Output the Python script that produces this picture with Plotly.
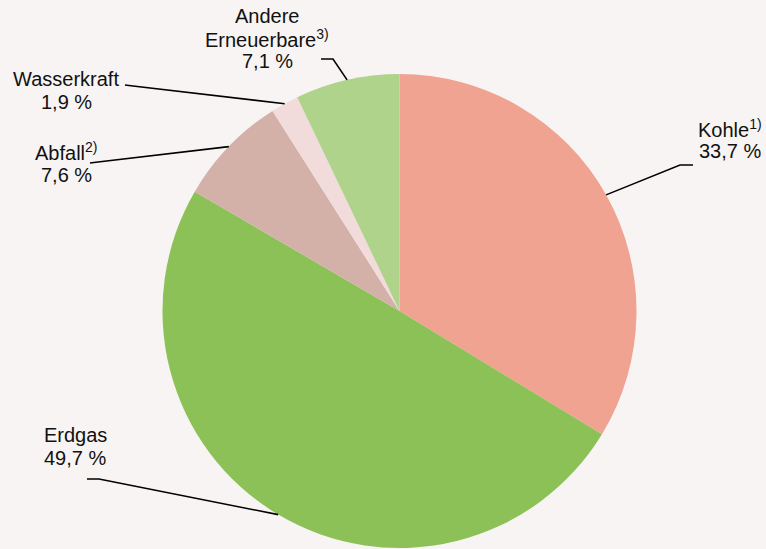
import math
import plotly.graph_objects as go

# ---- data ----
labels = ["Kohle", "Erdgas", "Abfall", "Wasserkraft", "Andere Erneuerbare"]
values = [33.7, 49.7, 7.6, 1.9, 7.1]
value_text = ["33,7 %", "49,7 %", "7,6 %", "1,9 %", "7,1 %"]
name_lines = [["Kohle<sup>1)</sup>"], ["Erdgas"], ["Abfall<sup>2)</sup>"], ["Wasserkraft"],
              ["Andere", "Erneuerbare<sup>3)</sup>"]]
colors = ["#F0A391", "#8CC158", "#D3B0A8", "#F2DBDB", "#AFD38A"]

# ---- layout constants (pixels) ----
W, H = 766, 549
CX, CY, R = 399.5, 311.0, 237.0
BG = "#F8F4F3"
FONT = "Liberation Sans, Arial, sans-serif"
FS = 20
LINE_H = 22.5

# label blocks: (x, first baseline, anchor)
label_pos = [(730, 135, "center"), (42, 442, "left"), (66, 159, "center"),
             (66, 86, "center"), (267, 23, "center")]
# leader: (knee point, end point)
leaders = [((680, 165), (693, 165)), ((99, 479), (87, 479)), ((98, 162), (90, 163)),
           ((133, 86), (125, 85)), ((333, 59), (321, 59))]

def px(x):
    return x / W

def py(y):
    return 1 - y / H

fig = go.Figure(go.Pie(
    labels=labels, values=values, sort=False, direction="clockwise", rotation=0,
    marker=dict(colors=colors, line=dict(width=0)), textinfo="none",
    hoverinfo="label+percent", showlegend=False,
    domain=dict(x=[px(CX - R), px(CX + R)], y=[py(CY + R), py(CY - R)]),
))

total = sum(values)
cum = 0.0
shapes = []
annotations = []
for i, v in enumerate(values):
    mid = (cum + v / 2) / total * 2 * math.pi
    cum += v
    ex = CX + R * math.sin(mid)
    ey = CY - R * math.cos(mid)
    (kx, ky), (tx, ty) = leaders[i]
    path = f"M {px(ex)} {py(ey)} L {px(kx)} {py(ky)} L {px(tx)} {py(ty)}"
    shapes.append(dict(type="path", xref="paper", yref="paper", path=path,
                       line=dict(color="black", width=1.6)))
    x0, b0, anchor = label_pos[i]
    lines = name_lines[i] + [value_text[i]]
    for j, t in enumerate(lines):
        b = b0 + j * LINE_H
        annotations.append(dict(
            x=px(x0), y=py(b - 7), xref="paper", yref="paper", text=t,
            showarrow=False, xanchor=anchor, yanchor="middle",
            font=dict(family=FONT, size=FS, color="#111111")))

fig.update_layout(
    width=W, height=H, margin=dict(l=0, r=0, t=0, b=0),
    paper_bgcolor=BG, plot_bgcolor=BG,
    shapes=shapes, annotations=annotations,
)
fig.write_html("out.html", config={"displayModeBar": False},
               post_script="document.body.style.margin='0';document.body.style.background='%s';" % BG)
